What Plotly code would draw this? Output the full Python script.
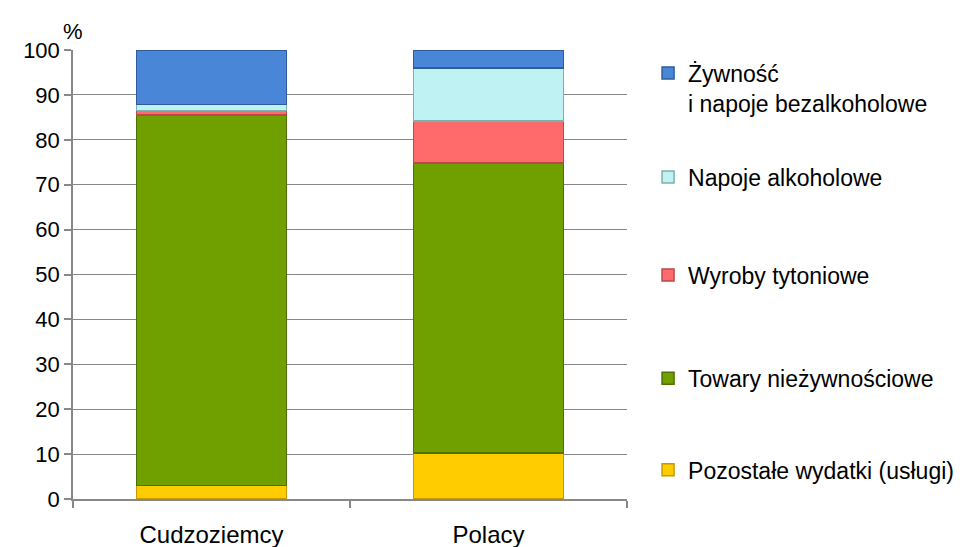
import plotly.graph_objects as go

categories = ["Cudzoziemcy", "Polacy"]
series_names = [
    "Pozostałe wydatki (usługi)",
    "Towary nieżywnościowe",
    "Wyroby tytoniowe",
    "Napoje alkoholowe",
    "Żywność<br>i napoje bezalkoholowe",
]
pozostale = [3.0, 10.3]
towary = [82.5, 64.5]
wyroby = [1.0, 9.4]
napoje = [1.4, 11.8]
zywnosc = [12.1, 4.0]
y_ticks = [0, 10, 20, 30, 40, 50, 60, 70, 80, 90, 100]

values = [pozostale, towary, wyroby, napoje, zywnosc]
fills = ["#FFCC00", "#6FA000", "#FF6B6B", "#BFF2F2", "#4A86D8"]
edges = ["#C89A00", "#4E7000", "#B84A4A", "#7FAFAF", "#2E5C9C"]
legend_ids = ["legend5", "legend4", "legend3", "legend2", "legend"]
legend_y = [0.065, 0.269, 0.499, 0.717, 0.915]

FONT = "Liberation Sans, Arial, sans-serif"

fig = go.Figure()
for name, vals, fc, ec, lid in zip(series_names, values, fills, edges, legend_ids):
    fig.add_trace(go.Bar(
        x=categories, y=vals, name=name,
        marker=dict(color=fc, line=dict(color=ec, width=1.5)),
        width=0.54, legend=lid,
    ))

layout_legends = {}
for lid, ly in zip(legend_ids, legend_y):
    layout_legends[lid] = dict(
        x=1.038, y=ly, xanchor="left", yanchor="middle",
        bgcolor="rgba(0,0,0,0)", borderwidth=0,
        font=dict(family=FONT, size=23, color="#000000"),
        valign="top" if lid == "legend" else "middle",
    )

fig.update_layout(
    barmode="stack",
    width=960, height=539,
    margin=dict(l=65, r=341, t=42, b=48, autoexpand=False),
    paper_bgcolor="white", plot_bgcolor="white",
    font=dict(family=FONT, size=22, color="#000000"),
    showlegend=True,
    xaxis=dict(
        type="category", showline=True, linecolor="#888888", linewidth=1.5,
        ticks="outside", tickson="boundaries", ticklen=7, tickcolor="#888888",
        tickwidth=1.5, showgrid=False, automargin=False,
        tickfont=dict(family=FONT, size=24, color="#000000"),
        ticklabelstandoff=13,
    ),
    yaxis=dict(
        range=[0, 100], tickvals=y_ticks, showline=True, linecolor="#888888",
        linewidth=1.5, ticks="outside", ticklen=7, tickcolor="#888888",
        tickwidth=1.5, showgrid=True, gridcolor="#888888", gridwidth=1,
        zeroline=False, automargin=False,
        tickfont=dict(family=FONT, size=22, color="#000000"),
    ),
    annotations=[dict(
        text="%", xref="paper", yref="paper", x=0.0, y=1.042,
        xanchor="center", yanchor="middle", showarrow=False,
        font=dict(family=FONT, size=22, color="#000000"),
    )],
    **layout_legends,
)

fig.write_html("out.html")
